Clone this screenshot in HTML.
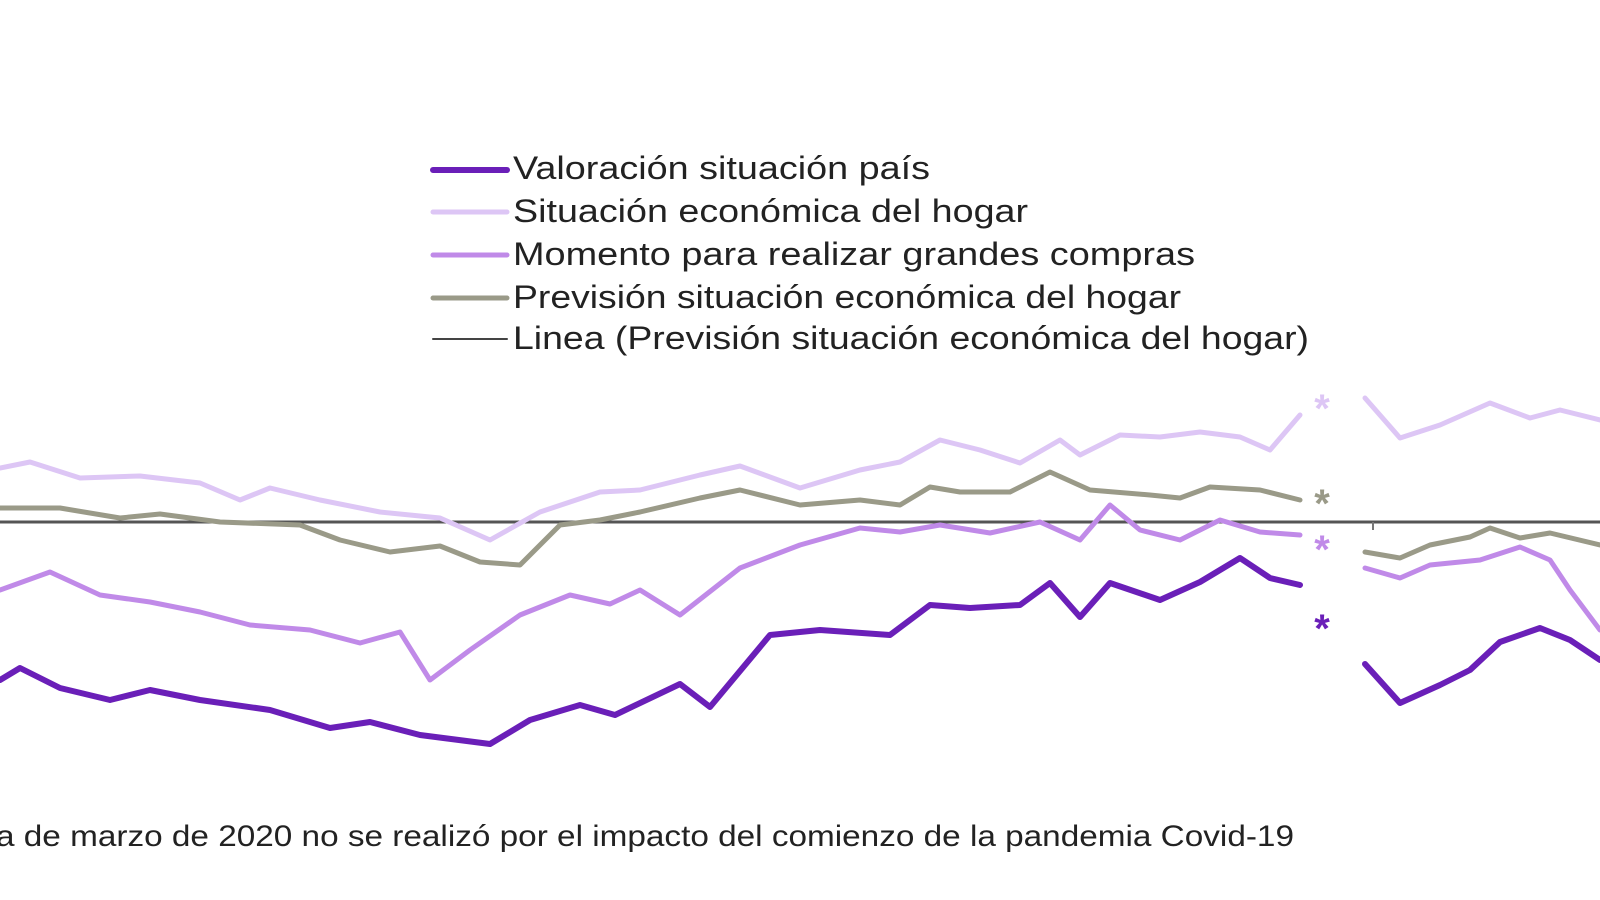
<!DOCTYPE html>
<html><head><meta charset="utf-8"><style>
html,body{margin:0;padding:0;background:#fff;}
svg{display:block}
text{font-family:"Liberation Sans",sans-serif;fill:#222;}
</style></head><body>
<svg width="1600" height="900" viewBox="0 0 1600 900">
<g stroke-linecap="round" stroke-linejoin="round" fill="none">
<line x1="433" y1="170" x2="507" y2="170" stroke="#6a1fb8" stroke-width="6"/>
<line x1="433" y1="212" x2="507" y2="212" stroke="#ddc6f5" stroke-width="5"/>
<line x1="433" y1="255" x2="507" y2="255" stroke="#c08ae8" stroke-width="5"/>
<line x1="433" y1="298" x2="507" y2="298" stroke="#9a9a88" stroke-width="5"/>
<line x1="433" y1="339" x2="507" y2="339" stroke="#444" stroke-width="2"/>
</g>
<g font-size="32">
<text x="513" y="179" textLength="417" lengthAdjust="spacingAndGlyphs">Valoración situación país</text>
<text x="513" y="222" textLength="515" lengthAdjust="spacingAndGlyphs">Situación económica del hogar</text>
<text x="513" y="265" textLength="682" lengthAdjust="spacingAndGlyphs">Momento para realizar grandes compras</text>
<text x="513" y="308" textLength="668" lengthAdjust="spacingAndGlyphs">Previsión situación económica del hogar</text>
<text x="513" y="349" textLength="796" lengthAdjust="spacingAndGlyphs">Linea (Previsión situación económica del hogar)</text>
</g>
<line x1="0" y1="522" x2="1600" y2="522" stroke="#555" stroke-width="3"/>
<line x1="1373" y1="522" x2="1373" y2="530" stroke="#777" stroke-width="2"/>
<g fill="none" stroke-linecap="round" stroke-linejoin="round">
<polyline stroke="#ddc6f5" stroke-width="5" points="0,468 30,462 80,478 140,476 200,483 240,500 270,488 320,500 380,512 440,518 490,540 540,512 600,492 640,490 700,475 740,466 800,488 860,470 900,462 940,440 980,450 1020,463 1060,440 1080,455 1120,435 1160,437 1200,432 1240,437 1270,450 1300,415"/>
<polyline stroke="#ddc6f5" stroke-width="5" points="1365,398 1400,438 1440,425 1490,403 1530,418 1560,410 1600,420"/>
<polyline stroke="#9a9a88" stroke-width="5" points="0,508 60,508 120,518 160,514 220,522 300,525 340,540 390,552 440,546 480,562 520,565 560,525 600,520 640,512 700,498 740,490 800,505 860,500 900,505 930,487 960,492 1010,492 1050,472 1090,490 1150,495 1180,498 1210,487 1260,490 1300,500"/>
<polyline stroke="#9a9a88" stroke-width="5" points="1365,552 1400,558 1430,545 1470,537 1490,528 1520,538 1550,533 1600,545"/>
<polyline stroke="#c08ae8" stroke-width="5" points="0,590 50,572 100,595 150,602 200,612 250,625 310,630 360,643 400,632 430,680 470,650 520,615 570,595 610,604 640,590 680,615 740,568 800,545 860,528 900,532 940,525 990,533 1040,522 1080,540 1110,505 1140,530 1180,540 1220,520 1260,532 1300,535"/>
<polyline stroke="#c08ae8" stroke-width="5" points="1365,568 1400,578 1430,565 1480,560 1520,547 1550,560 1570,590 1600,630"/>
<polyline stroke="#6a1fb8" stroke-width="6" points="0,680 20,668 60,688 110,700 150,690 200,700 270,710 330,728 370,722 420,735 490,744 530,720 580,705 615,715 680,684 710,707 770,635 820,630 890,635 930,605 970,608 1020,605 1050,583 1080,617 1110,583 1160,600 1200,582 1240,558 1270,578 1300,585"/>
<polyline stroke="#6a1fb8" stroke-width="6" points="1365,664 1400,703 1440,685 1470,670 1500,642 1540,628 1570,640 1600,660"/>
</g>
<g font-size="40" text-anchor="middle" font-weight="bold">
<text x="1322" y="422" style="fill:#ddc6f5">*</text>
<text x="1322" y="517" style="fill:#9a9a88">*</text>
<text x="1322" y="563" style="fill:#c08ae8">*</text>
<text x="1322" y="642" style="fill:#6a1fb8">*</text>
</g>
<text x="-4" y="846" font-size="30" textLength="1298" lengthAdjust="spacingAndGlyphs">a de marzo de 2020 no se realizó por el impacto del comienzo de la pandemia Covid-19</text>
</svg>
</body></html>
